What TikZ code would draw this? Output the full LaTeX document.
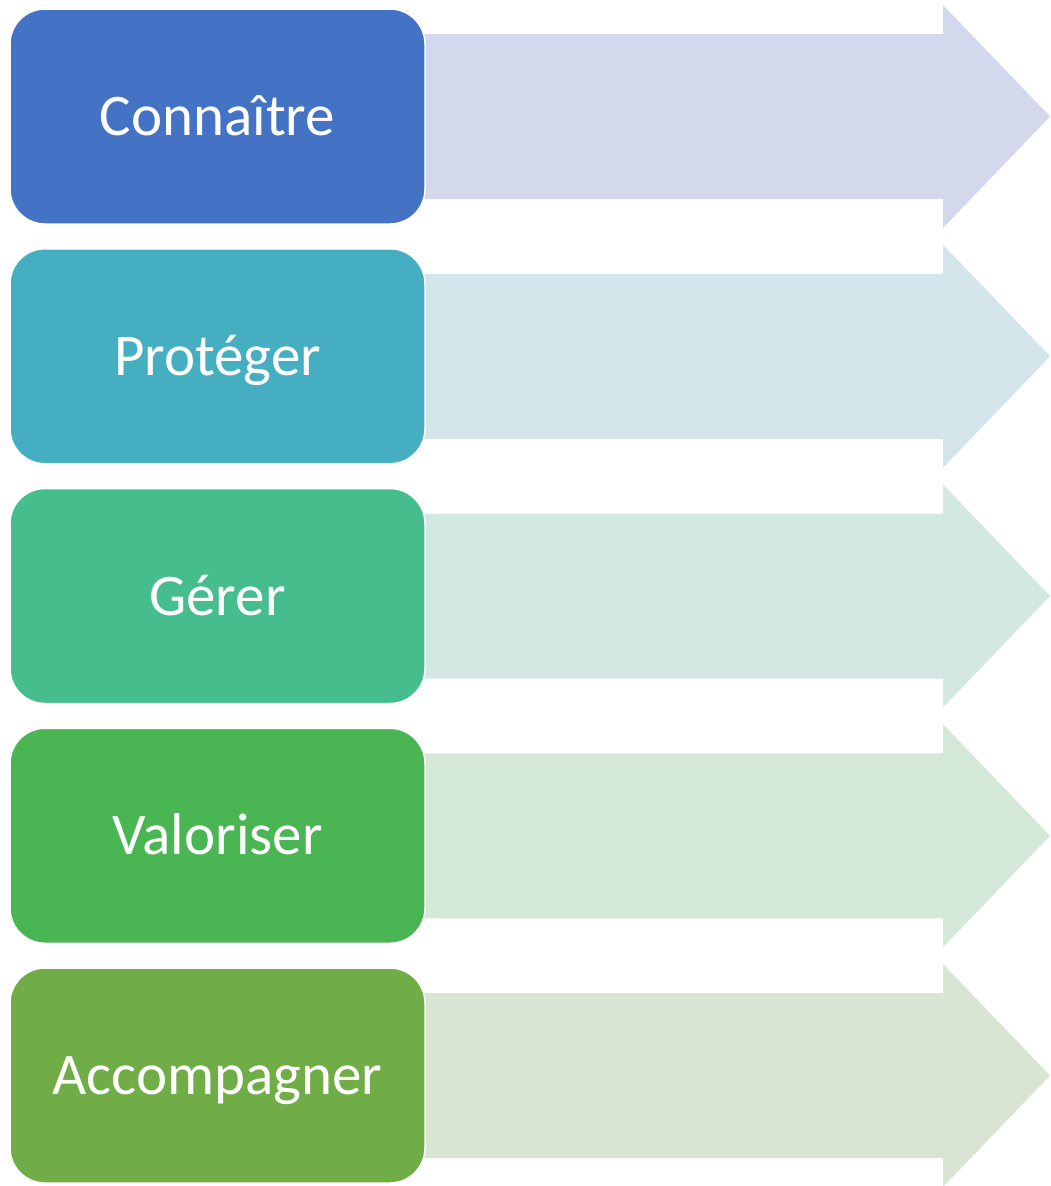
\documentclass[tikz,border=0pt]{standalone}
\usepackage{fontspec}
\setmainfont{Carlito}
\usepackage{xcolor}
\usetikzlibrary{positioning}

\definecolor{darkA}{HTML}{4472C4}
\definecolor{darkB}{HTML}{45AFC1}
\definecolor{darkC}{HTML}{45BD8C}
\definecolor{darkD}{HTML}{49B553}
\definecolor{darkE}{HTML}{70AD47}
\definecolor{lightA}{HTML}{D3D8EC}
\definecolor{lightB}{HTML}{D3E4EA}
\definecolor{lightC}{HTML}{D3E8E2}
\definecolor{lightD}{HTML}{D3E8D7}
\definecolor{lightE}{HTML}{D8E5D3}

\begin{document}
\begin{tikzpicture}[x=1pt,y=-1pt,
    stepbox/.style={rounded corners=35pt, draw=white, line width=1.5pt,
      minimum width=415pt, minimum height=215pt, inner sep=0pt,
      text=white, text height=38pt, text depth=0pt,
      font=\fontsize{59}{70}\selectfont}]
        \useasboundingbox (0,0) rectangle (1050,1186);

        % Flèches claires puis cases colorées
        \foreach \i/\txt/\dark/\light in {0/Connaître/darkA/lightA,
            1/Protéger/darkB/lightB, 2/Gérer/darkC/lightC,
            3/Valoriser/darkD/lightD, 4/Accompagner/darkE/lightE} {
            \pgfmathsetmacro\c{116.5+239.75*\i}
            \fill[\light] (400,\c-82.5) -- (943,\c-82.5) -- (943,\c-111.5)
                -- (1050,\c) -- (943,\c+111.5) -- (943,\c+82.5)
                -- (400,\c+82.5) -- cycle;
            \node[stepbox, fill=\dark] (box\i) at (217.5,\c) {\txt};
        }
    \end{tikzpicture}
\end{document}
